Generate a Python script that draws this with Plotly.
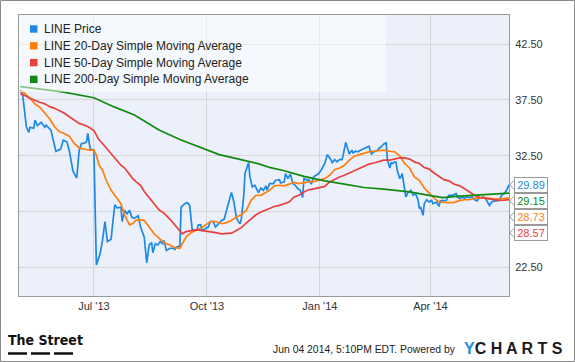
import plotly.graph_objects as go

# ---------------- data ----------------
price_dates = [
    "2013-05-02", "2013-05-04", "2013-05-07", "2013-05-09", "2013-05-10", "2013-05-13", "2013-05-14",
    "2013-05-16", "2013-05-19", "2013-05-22", "2013-05-23", "2013-05-27", "2013-05-31", "2013-06-04",
    "2013-06-06", "2013-06-09", "2013-06-11", "2013-06-14", "2013-06-17", "2013-06-19", "2013-06-21",
    "2013-06-23", "2013-06-25", "2013-06-26", "2013-06-28", "2013-07-01", "2013-07-03", "2013-07-06",
    "2013-07-08", "2013-07-10", "2013-07-12", "2013-07-15", "2013-07-16", "2013-07-18", "2013-07-20",
    "2013-07-23", "2013-07-24", "2013-07-26", "2013-07-28", "2013-07-30", "2013-08-01", "2013-08-03",
    "2013-08-06", "2013-08-08", "2013-08-11", "2013-08-12", "2013-08-13", "2013-08-15", "2013-08-17",
    "2013-08-18", "2013-08-20", "2013-08-22", "2013-08-24", "2013-08-26", "2013-08-27", "2013-08-29",
    "2013-09-01", "2013-09-03", "2013-09-05", "2013-09-06", "2013-09-09", "2013-09-10", "2013-09-13",
    "2013-09-15", "2013-09-17", "2013-09-19", "2013-09-21", "2013-09-23", "2013-09-24", "2013-09-26",
    "2013-09-27", "2013-09-29", "2013-10-02", "2013-10-04", "2013-10-06", "2013-10-08", "2013-10-11",
    "2013-10-13", "2013-10-15", "2013-10-18", "2013-10-20", "2013-10-21", "2013-10-23", "2013-10-25",
    "2013-10-26", "2013-10-28", "2013-10-29", "2013-10-31", "2013-11-01", "2013-11-02", "2013-11-04",
    "2013-11-05", "2013-11-07", "2013-11-09", "2013-11-11", "2013-11-12", "2013-11-14", "2013-11-16",
    "2013-11-18", "2013-11-19", "2013-11-21", "2013-11-24", "2013-11-26", "2013-11-29", "2013-11-30",
    "2013-12-03", "2013-12-04", "2013-12-06", "2013-12-08", "2013-12-10", "2013-12-12", "2013-12-14",
    "2013-12-16", "2013-12-18", "2013-12-19", "2013-12-22", "2013-12-23", "2013-12-25", "2013-12-27",
    "2013-12-29", "2013-12-31", "2014-01-02", "2014-01-05", "2014-01-07", "2014-01-10", "2014-01-11",
    "2014-01-13", "2014-01-15", "2014-01-17", "2014-01-19", "2014-01-20", "2014-01-22", "2014-01-24",
    "2014-01-25", "2014-01-27", "2014-01-28", "2014-01-30", "2014-02-01", "2014-02-03", "2014-02-06",
    "2014-02-08", "2014-02-10", "2014-02-12", "2014-02-14", "2014-02-17", "2014-02-18", "2014-02-20",
    "2014-02-22", "2014-02-24", "2014-02-25", "2014-02-27", "2014-02-28", "2014-03-01", "2014-03-03",
    "2014-03-04", "2014-03-05", "2014-03-07", "2014-03-08", "2014-03-09", "2014-03-11", "2014-03-12",
    "2014-03-14", "2014-03-15", "2014-03-16", "2014-03-18", "2014-03-20", "2014-03-22", "2014-03-23",
    "2014-03-24", "2014-03-26", "2014-03-27", "2014-03-29", "2014-03-31", "2014-04-02", "2014-04-03",
    "2014-04-06", "2014-04-08", "2014-04-09", "2014-04-11", "2014-04-12", "2014-04-14", "2014-04-16",
    "2014-04-19", "2014-04-22", "2014-04-23", "2014-04-25", "2014-04-27", "2014-04-29", "2014-04-30",
    "2014-05-03", "2014-05-05", "2014-05-07", "2014-05-09", "2014-05-10", "2014-05-12", "2014-05-14",
    "2014-05-16", "2014-05-19", "2014-05-21", "2014-05-23", "2014-05-25", "2014-05-27", "2014-05-29",
    "2014-05-31", "2014-06-02", "2014-06-04",
]
price_values = [
    38.4, 37.95, 35.1, 34.6, 35.05, 34.96, 35.7,
    35.2, 35.5, 35.05, 35.25, 34.8, 32.9, 33.1,
    33.9, 33.75, 32.9, 31.1, 30.5, 33.0, 33.6,
    33.6, 33.75, 34.5, 33.1, 33.0, 22.7, 23.7,
    24.9, 26.6, 24.8, 25.0, 26.1, 28.1, 27.8,
    27.9, 26.6, 27.6, 27.3, 27.6, 26.95, 26.9,
    27.1, 26.1, 25.2, 23.7, 22.9, 24.5, 24.7,
    23.8, 24.6, 24.5, 24.8, 24.6, 24.9, 24.0,
    24.2, 24.2, 24.1, 24.3, 24.4, 27.9, 28.2,
    28.3, 28.05, 25.9, 25.8, 25.9, 26.3, 26.3,
    25.8, 25.9, 26.1, 26.6, 26.6, 26.1, 26.5,
    26.7, 26.8, 27.9, 28.65, 29.2, 28.35, 26.95,
    26.7, 26.4, 26.8, 28.9, 30.9, 31.2, 31.9,
    30.6, 29.7, 29.85, 29.4, 29.2, 29.6, 29.4,
    29.8, 29.4, 30.0, 30.0, 30.3, 30.35, 30.05,
    30.15, 30.9, 30.45, 30.85, 30.0, 29.85, 29.55,
    29.4, 28.75, 30.45, 30.3, 30.35, 29.95, 30.6,
    30.75, 30.9, 31.2, 31.8, 32.6, 32.15, 31.85,
    32.15, 31.95, 32.15, 32.15, 32.55, 33.7, 32.85,
    32.65, 33.0, 32.75, 32.9, 32.85, 33.0, 33.15,
    33.25, 33.35, 32.65, 32.85, 33.0, 33.15, 33.3,
    33.55, 33.65, 32.1, 31.4, 31.9, 31.8, 31.95,
    31.9, 31.2, 30.45, 30.6, 30.9, 29.55, 28.8,
    29.25, 29.25, 29.4, 28.95, 29.1, 28.5, 27.75,
    27.9, 27.15, 28.2, 28.55, 28.35, 28.5, 28.2,
    28.35, 27.95, 28.45, 28.5, 28.45, 28.5, 28.95,
    28.95, 29.1, 28.8, 28.65, 28.8, 28.65, 28.8,
    28.75, 28.8, 28.55, 28.45, 28.65, 28.75, 28.8,
    28.65, 28.05, 28.35, 28.45, 28.45, 28.5, 28.95,
    29.1, 29.4, 29.89,
]

ma_dates = [
    "2013-05-02", "2013-05-05", "2013-05-10", "2013-05-14", "2013-05-18", "2013-05-22", "2013-05-26",
    "2013-05-30", "2013-06-03", "2013-06-07", "2013-06-11", "2013-06-15", "2013-06-19", "2013-06-23",
    "2013-06-27", "2013-07-01", "2013-07-03", "2013-07-05", "2013-07-08", "2013-07-11", "2013-07-15",
    "2013-07-19", "2013-07-23", "2013-07-26", "2013-07-30", "2013-08-02", "2013-08-04", "2013-08-08",
    "2013-08-11", "2013-08-15", "2013-08-19", "2013-08-23", "2013-08-27", "2013-09-01", "2013-09-05",
    "2013-09-09", "2013-09-11", "2013-09-14", "2013-09-18", "2013-09-22", "2013-09-26", "2013-09-30",
    "2013-10-04", "2013-10-08", "2013-10-13", "2013-10-17", "2013-10-21", "2013-10-25", "2013-10-29",
    "2013-11-02", "2013-11-06", "2013-11-10", "2013-11-14", "2013-11-18", "2013-11-21", "2013-11-25",
    "2013-11-29", "2013-12-03", "2013-12-07", "2013-12-11", "2013-12-15", "2013-12-19", "2013-12-23",
    "2013-12-28", "2014-01-01", "2014-01-05", "2014-01-09", "2014-01-13", "2014-01-17", "2014-01-21",
    "2014-01-25", "2014-01-29", "2014-02-02", "2014-02-06", "2014-02-10", "2014-02-14", "2014-02-18",
    "2014-02-22", "2014-02-27", "2014-03-03", "2014-03-07", "2014-03-11", "2014-03-15", "2014-03-19",
    "2014-03-23", "2014-03-27", "2014-03-31", "2014-04-04", "2014-04-08", "2014-04-12", "2014-04-16",
    "2014-04-20", "2014-04-25", "2014-04-29", "2014-05-03", "2014-05-07", "2014-05-11", "2014-05-15",
    "2014-05-19", "2014-05-23", "2014-05-27", "2014-05-31", "2014-06-04",
]
sma20_values = [
    38.3, 38.15, 37.65, 37.15, 36.85, 36.3, 35.8,
    35.1, 34.65, 34.5, 34.25, 33.6, 33.2, 33.1,
    33.0, 33.0, 32.55, 31.7, 31.2, 30.3, 29.4,
    28.8, 28.2, 27.2, 26.3, 26.45, 26.7, 26.75,
    26.7, 26.1, 25.5, 25.1, 24.7, 24.5, 24.25,
    24.2, 24.6, 25.2, 25.6, 25.8, 26.0, 26.3,
    26.6, 26.6, 26.4, 26.5, 26.7, 27.0, 27.2,
    27.6, 28.5, 28.95, 28.95, 29.2, 29.4, 29.8,
    29.85, 29.8, 29.95, 30.1, 30.0, 30.1, 30.15,
    30.2, 30.3, 30.45, 30.75, 31.25, 31.4, 31.65,
    32.1, 32.45, 32.6, 32.75, 32.85, 32.9, 32.95,
    33.0, 32.9, 32.85, 32.5, 31.8, 31.4, 30.6,
    30.3, 29.6, 29.15, 28.7, 28.35, 28.3, 28.3,
    28.3, 28.5, 28.55, 28.55, 28.7, 28.75, 28.75,
    28.7, 28.6, 28.6, 28.65, 28.73,
]
sma50_values = [
    38.04, 37.95, 37.65, 37.45, 37.3, 37.15, 36.9,
    36.75, 36.55, 36.3, 36.0, 35.7, 35.4, 35.25,
    35.05, 34.75, 34.4, 33.95, 33.6, 33.2, 32.7,
    32.1, 31.65, 31.4, 30.8, 30.4, 30.2, 29.85,
    29.3, 28.8, 28.2, 27.65, 27.35, 26.8, 26.3,
    25.7, 25.5, 25.7, 25.8, 25.85, 25.8, 25.75,
    25.7, 25.6, 25.5, 25.5, 25.55, 25.8, 26.05,
    26.45, 26.8, 27.2, 27.45, 27.65, 27.75, 27.95,
    28.05, 28.2, 28.35, 28.8, 28.95, 29.25, 29.45,
    29.55, 29.65, 29.75, 30.15, 30.4, 30.6, 30.75,
    30.95, 31.2, 31.4, 31.6, 31.75, 31.85, 31.95,
    32.1, 32.1, 32.2, 32.3, 32.3, 32.2, 31.95,
    31.8, 31.45, 31.3, 30.95, 30.65, 30.35, 30.25,
    29.96, 29.8, 29.5, 29.25, 28.95, 28.75, 28.7,
    28.6, 28.55, 28.5, 28.52, 28.57,
]
sma200_dates = [
    "2013-05-02", "2013-06-04", "2013-07-01", "2013-07-13", "2013-07-17", "2013-08-03", "2013-08-11",
    "2013-08-23", "2013-09-09", "2013-09-25", "2013-10-11", "2013-10-27", "2013-11-13", "2013-11-21",
    "2013-12-03", "2013-12-19", "2014-01-05", "2014-01-21", "2014-02-06", "2014-02-22", "2014-03-15",
    "2014-03-31", "2014-04-11", "2014-04-22", "2014-05-05", "2014-05-19", "2014-06-04",
]
sma200_values = [
    38.7, 38.25, 37.7, 37.05, 36.9, 36.15, 35.6,
    34.8, 33.95, 33.3, 32.6, 32.2, 31.75, 31.45,
    31.15, 30.65, 30.25, 29.95, 29.65, 29.5, 29.25,
    28.95, 28.75, 28.85, 28.95, 29.05, 29.15,
]

series_names = [
    "LINE Price",
    "LINE 20-Day Simple Moving Average",
    "LINE 50-Day Simple Moving Average",
    "LINE 200-Day Simple Moving Average",
]
series_colors = ["#1E88E5", "#FF7F0E", "#E8413C", "#118A11"]
x_range = ["2013-05-01", "2014-06-04"]
y_range = [19.92, 45.12]
y_tickvals = [22.5, 27.5, 32.5, 37.5, 42.5]
# the 27.50 label is hidden behind the last-value boxes in the reference
y_ticktext = ["22.50", "", "32.50", "37.50", "42.50"]

# ---------------- layout helpers (pixel -> paper) ----------------
W, H = 575, 362
ML, MR, MT, MB = 19, 66, 15, 66
PW, PH = W - ML - MR, H - MT - MB


def fx(px):
    return (px - ML) / PW


def fy(py):
    return (H - MB - py) / PH


def vy(v):
    return (v - y_range[0]) / (y_range[1] - y_range[0])


FONT = "Liberation Sans, Arial, sans-serif"

fig = go.Figure()
series = [
    (price_dates, price_values),
    (ma_dates, sma20_values),
    (ma_dates, sma50_values),
    (sma200_dates, sma200_values),
]
for (xs, ys), name, col in zip(series, series_names, series_colors):
    fig.add_trace(go.Scatter(x=xs, y=ys, mode="lines", name=name,
                             line=dict(color=col, width=1.7), showlegend=False,
                             hoverinfo="skip"))

shapes = []
annotations = []

# legend backdrop (semi transparent, over the lines)
shapes.append(dict(type="rect", xref="paper", yref="paper", x0=fx(19), x1=fx(386),
                   y0=fy(92), y1=fy(15), fillcolor="rgba(255,255,255,0.5)",
                   line=dict(width=0), layer="above"))
row0, step = 29, 16.8
for i, (name, col) in enumerate(zip(series_names, series_colors)):
    yc = row0 + i * step
    shapes.append(dict(type="rect", xref="paper", yref="paper", x0=fx(30), x1=fx(37.5),
                       y0=fy(yc + 3.7), y1=fy(yc - 3.7), fillcolor=col,
                       line=dict(width=0), layer="above"))
    annotations.append(dict(text=name, xref="paper", yref="paper", x=fx(41.5), y=fy(yc),
                            xanchor="left", yanchor="middle", showarrow=False,
                            font=dict(family=FONT, size=12, color="#222222")))

# last-value labels, stacked from the price value downward
last_vals = [price_values[-1], sma200_values[-1], sma20_values[-1], sma50_values[-1]]
last_cols = [series_colors[0], series_colors[3], series_colors[1], series_colors[2]]
base = vy(last_vals[0])
for i, (v, col) in enumerate(zip(last_vals, last_cols)):
    yp = base - i * 16 / PH
    annotations.append(dict(text=f"{v:.2f}", xref="paper", yref="paper", x=1, y=yp,
                            xanchor="left", yanchor="middle", xshift=4.7, showarrow=False,
                            width=30, height=12, borderpad=1, borderwidth=1,
                            bordercolor="#9a9a9a", bgcolor="#ffffff",
                            font=dict(family=FONT, size=11, color=col)))
    shapes.append(dict(type="path", xref="paper", yref="paper", xsizemode="pixel",
                       ysizemode="pixel", xanchor=1, yanchor=yp,
                       path="M 4.8,4.5 L 0.9,0 L 4.8,-4.5",
                       line=dict(color="#9a9a9a", width=1), layer="above"))

# outer frame
shapes.append(dict(type="rect", xref="paper", yref="paper", x0=fx(0.5), x1=fx(574.5),
                   y0=fy(361.5), y1=fy(0.5), line=dict(color="#8a8a8a", width=1),
                   fillcolor="rgba(0,0,0,0)", layer="above"))

# footer
annotations.append(dict(text="<b>The Street</b>", xref="paper", yref="paper", x=fx(6), y=fy(339.5),
                        xanchor="left", yanchor="middle", showarrow=False,
                        font=dict(family="Liberation Sans Narrow, DejaVu Sans Condensed, Arial Narrow, sans-serif",
                                  size=14, color="#111111")))
for a, b in [(8, 27), (31, 50), (54, 73)]:
    shapes.append(dict(type="line", xref="paper", yref="paper", x0=fx(a), x1=fx(b),
                       y0=fy(353.5), y1=fy(353.5), line=dict(color="#111111", width=2.5)))
annotations.append(dict(text="Jun 04 2014, 5:10PM EDT. Powered by", xref="paper", yref="paper",
                        x=fx(271), y=fy(349), xanchor="left", yanchor="middle", showarrow=False,
                        font=dict(family=FONT, size=10.4, color="#222222")))
annotations.append(dict(text="<b><span style='color:#1A8FD9'>Y</span>C H A R T S</b>",
                        xref="paper", yref="paper",
                        x=fx(462), y=fy(348), xanchor="left", yanchor="middle", showarrow=False,
                        font=dict(family=FONT, size=16, color="#1b1b1b")))

fig.update_layout(
    width=W, height=H,
    margin=dict(l=ML, r=MR, t=MT, b=MB, pad=0),
    paper_bgcolor="#ffffff",
    plot_bgcolor="#EBF0FA",
    showlegend=False,
    font=dict(family=FONT, size=11, color="#333333"),
    shapes=shapes,
    annotations=annotations,
    xaxis=dict(type="date", range=x_range, tick0="2013-07-01", dtick="M3",
               tickformat="%b '%y", showgrid=True, gridcolor="#d6d6d6", gridwidth=1,
               showline=True, linecolor="#9a9a9a", linewidth=1, mirror=True,
               ticks="", zeroline=False, tickfont=dict(size=11, color="#333333")),
    yaxis=dict(side="right", range=y_range, tickmode="array", tickvals=y_tickvals,
               ticktext=y_ticktext,
               showgrid=True, gridcolor="#d6d6d6", gridwidth=1,
               showline=True, linecolor="#9a9a9a", linewidth=1, mirror=True,
               ticks="", zeroline=False, ticklabelstandoff=3,
               tickfont=dict(size=11, color="#333333")),
)

fig.write_html("out.html", config={"displayModeBar": False},
               post_script="document.body.style.margin='0';document.body.style.padding='0';"
                           "document.documentElement.style.overflow='hidden';")
